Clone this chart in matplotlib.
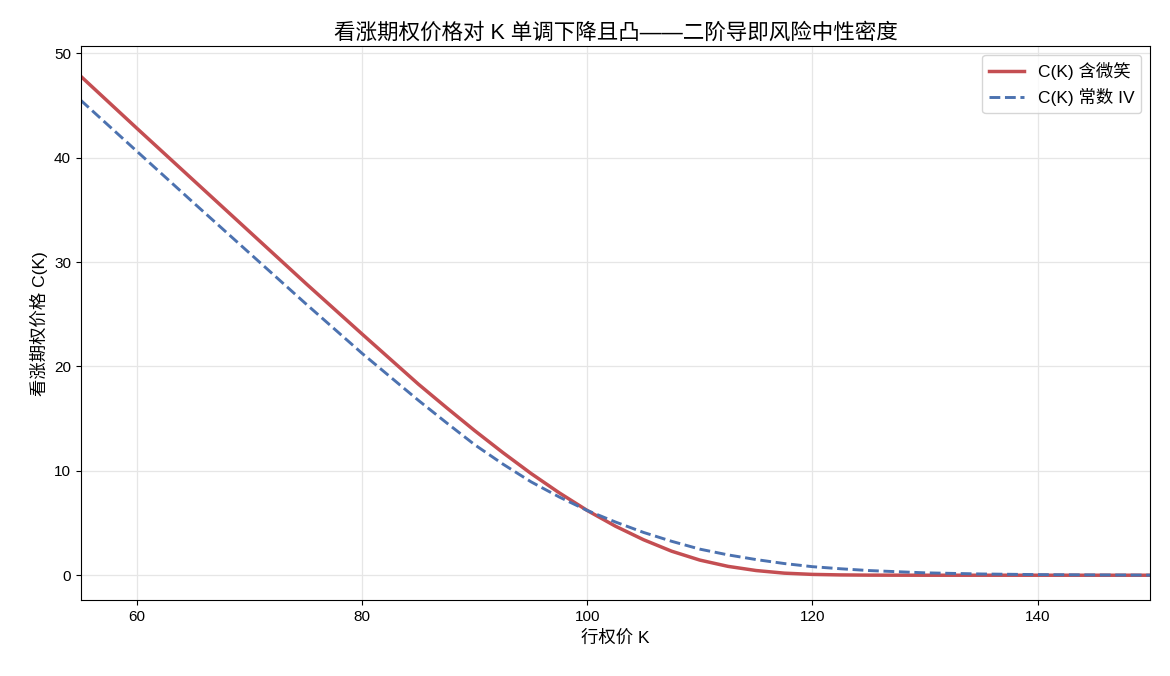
import matplotlib
matplotlib.use("Agg")
import matplotlib.pyplot as plt

plt.rcParams["font.family"] = ["Liberation Sans", "Noto Sans CJK SC", "DejaVu Sans"]
plt.rcParams["axes.unicode_minus"] = False

# 行权价
strike = [55, 60, 65, 70, 75, 80, 85, 87.5, 90, 92.5, 95, 97.5, 100, 102.5, 105, 107.5,
          110, 112.5, 115, 117.5, 120, 122.5, 125, 130, 135, 140, 145, 150]
# 含微笑的看涨期权价格
call_smile = [47.8, 42.8, 37.85, 32.9, 27.95, 23.1, 18.3, 16.05, 13.85, 11.75, 9.75, 7.9,
              6.2, 4.7, 3.4, 2.3, 1.45, 0.85, 0.45, 0.2, 0.08, 0.03, 0.01, 0.0, 0.0, 0.0,
              0.0, 0.0]
# 常数隐含波动率的看涨期权价格
call_flat = [45.5, 40.6, 35.7, 30.85, 26.0, 21.25, 16.75, 14.6, 12.5, 10.65, 8.95, 7.5,
             6.2, 5.1, 4.1, 3.25, 2.5, 1.95, 1.5, 1.12, 0.82, 0.62, 0.45, 0.23, 0.12, 0.06,
             0.03, 0.01]

fig, ax = plt.subplots(figsize=(11.7, 6.76), dpi=100)
ax.plot(strike, call_smile, color="#c44e52", lw=2.5, label="C(K) 含微笑")
ax.plot(strike, call_flat, color="#4c72b0", lw=2.1, ls="--", label="C(K) 常数 IV")

ax.set_xlim(55, 150)
ax.set_ylim(-2.4, 50.7)
ax.grid(True, color="#e6e6e6", lw=0.9)
ax.tick_params(labelsize=11)
ax.set_xlabel("行权价 K", fontsize=12.5)
ax.set_ylabel("看涨期权价格 C(K)", fontsize=12.5)
ax.set_title("看涨期权价格对 K 单调下降且凸——二阶导即风险中性密度", fontsize=15.5, pad=5)
ax.legend(loc="upper right", fontsize=12.5)

plt.subplots_adjust(left=0.069, right=0.983, top=0.932, bottom=0.112)
plt.savefig("out.png")
